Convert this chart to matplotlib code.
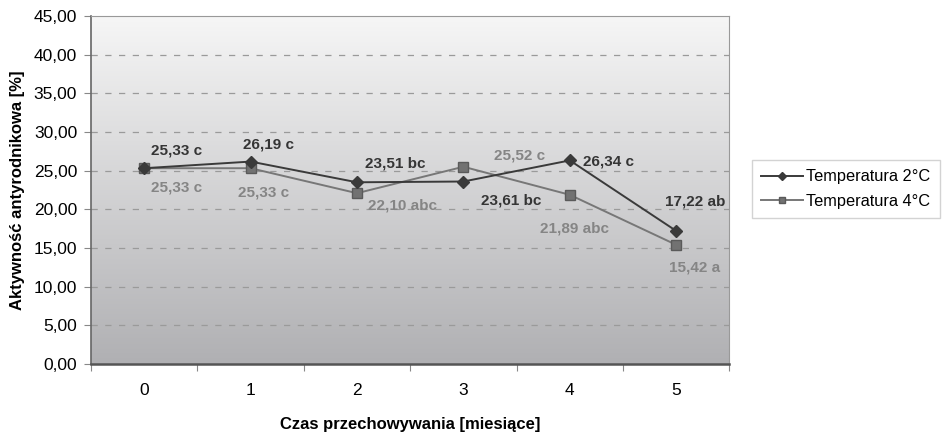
import numpy as np
import matplotlib.pyplot as plt
from matplotlib.colors import LinearSegmentedColormap
from matplotlib.ticker import FixedLocator, FuncFormatter

plt.rcParams['font.family'] = ['Liberation Sans', 'DejaVu Sans']

miesiace = [0, 1, 2, 3, 4, 5]
temp2 = [25.33, 26.19, 23.51, 23.61, 26.34, 17.22]
temp4 = [25.33, 25.33, 22.10, 25.52, 21.89, 15.42]
etyk2 = ["25,33 c", "26,19 c", "23,51 bc", "23,61 bc", "26,34 c", "17,22 ab"]
etyk4 = ["25,33 c", "25,33 c", "22,10 abc", "25,52 c", "21,89 abc", "15,42 a"]
# przesuniecia etykiet w pikselach
off2 = [(32, 18), (18, 17), (38, 19), (48, -19), (39, -1), (19, 29)]
off4 = [(32, -19), (13, -24), (45, -12), (56, 11), (5, -34), (18, -23)]

fig = plt.figure(figsize=(9.43, 4.37), dpi=100)
ax = fig.add_axes([0.0965, 0.167, 0.677, 0.796])

x = np.arange(len(miesiace))

# gradient tla
grad = np.linspace(0, 1, 256).reshape(-1, 1)
cm = LinearSegmentedColormap.from_list("g", ["#f6f6f6", "#b0b0b3"])
ax.imshow(grad, cmap=cm, aspect='auto', extent=(-0.5, 5.5, 0, 45),
          zorder=0, origin='upper')
ax.set_xlim(-0.5, 5.5)
ax.set_ylim(0, 45)

for yy in range(5, 45, 5):
    ax.axhline(yy, color="#9a9a9a", lw=0.9, ls=(0, (5, 6)), zorder=1)

ax.plot(x, temp2, color="#3a3a3a", lw=1.4, marker="D", ms=6, mfc="#3a3a3a",
        mec="#3a3a3a", label="Temperatura 2°C", zorder=3)
ax.plot(x, temp4, color="#777777", lw=1.4, marker="s", ms=7, mfc="#727272",
        mec="#5a5a5a", label="Temperatura 4°C", zorder=2)

for i in range(len(x)):
    ax.annotate(etyk2[i], (x[i], temp2[i]), xytext=off2[i], textcoords='offset pixels',
                ha='center', va='center', fontsize=11, fontweight='bold', color="#353535")
    ax.annotate(etyk4[i], (x[i], temp4[i]), xytext=off4[i], textcoords='offset pixels',
                ha='center', va='center', fontsize=11, fontweight='bold', color="#858585")

ax.xaxis.set_major_locator(FixedLocator(np.arange(-0.5, 6, 1)))
ax.xaxis.set_minor_locator(FixedLocator(x))
ax.set_xticklabels([])
ax.set_xticklabels([str(m) for m in miesiace], minor=True)
ax.tick_params(axis='x', which='major', length=5, color="#888888")
ax.tick_params(axis='x', which='minor', length=0, pad=14, labelsize=12.5)

ax.set_yticks(np.arange(0, 46, 5))
ax.yaxis.set_major_formatter(FuncFormatter(lambda v, p: f"{v:.2f}".replace(".", ",")))
ax.tick_params(axis='y', length=5, color="#888888", labelsize=12.5, pad=5)

for s in ['top', 'right']:
    ax.spines[s].set_color("#999999")
ax.spines['left'].set_color("#666666")
ax.spines['left'].set_linewidth(1.2)
ax.spines['bottom'].set_color("#555555")
ax.spines['bottom'].set_linewidth(1.8)

ax.set_xlabel("Czas przechowywania [miesiące]", fontsize=12, fontweight='bold', labelpad=13)
ax.set_ylabel("Aktywność antyrodnikowa [%]", fontsize=12, fontweight='bold', labelpad=6)

fig.legend(loc='center left', bbox_to_anchor=(0.797, 0.567), fontsize=11.8,
           frameon=True, fancybox=False, edgecolor="#c8c8c8", handlelength=2.6,
           handletextpad=0.2, borderpad=0.55, labelspacing=0.6, markerscale=0.65,
           borderaxespad=0)

fig.savefig("out.png", dpi=100)
